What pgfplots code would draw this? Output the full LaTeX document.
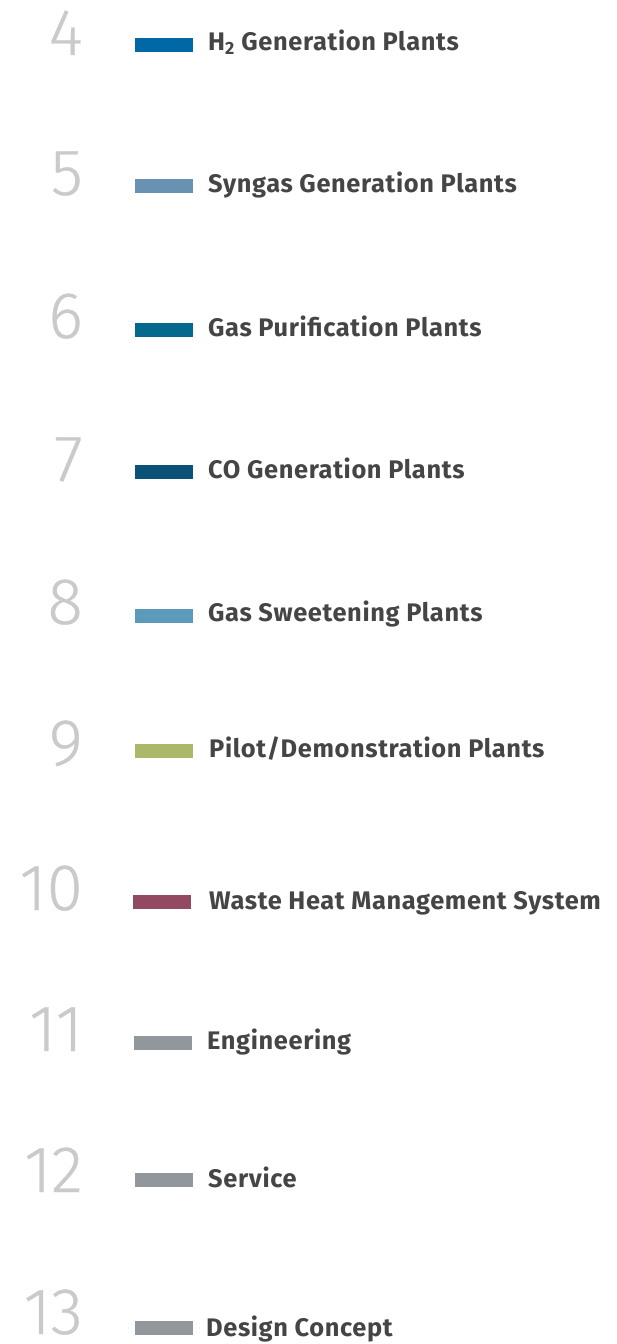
\documentclass[border=0pt]{standalone}
\usepackage{fontspec}
\usepackage{pgfplots}
\pgfplotsset{compat=1.18}
\IfFontExistsTF{Fira Sans Book}{\newfontfamily\numfont{Fira Sans Book}[FakeBold=0.5]}{%
  \IfFontExistsTF{Fira Sans Light}{\newfontfamily\numfont{Fira Sans Light}[FakeBold=0.5]}{\newfontfamily\numfont{Open Sans}}}
\newfontfamily\labfont{Fira Sans}[LetterSpace=2.5]
\definecolor{c4}{HTML}{0068A5}
\definecolor{c5}{HTML}{6991B2}
\definecolor{c6}{HTML}{04698C}
\definecolor{c7}{HTML}{0B5177}
\definecolor{c8}{HTML}{5B9ABB}
\definecolor{c9}{HTML}{ADB76A}
\definecolor{c10}{HTML}{914A62}
\definecolor{cg}{HTML}{91979A}
\definecolor{numgray}{HTML}{C9CACA}
\definecolor{labgray}{HTML}{454545}
\tikzset{
  num/.style={anchor=base east, font=\numfont\fontsize{66}{66}\selectfont, text=numgray, inner sep=0pt},
  lab/.style={anchor=base west, font=\labfont\bfseries\fontsize{25.5}{25.5}\selectfont, text=labgray, inner sep=0pt},
}
\begin{document}
\begin{tikzpicture}
\begin{axis}[
  scale only axis, width=616bp, height=1344bp,
  xmin=0, xmax=616, ymin=0, ymax=1344, y dir=reverse,
  hide axis, clip=false,
]
\addplot[draw=c4, line width=14bp] coordinates {(135,45) (193,45)};
\addplot[draw=c5, line width=14bp] coordinates {(135,186) (193,186)};
\addplot[draw=c6, line width=14bp] coordinates {(135,330) (193,330)};
\addplot[draw=c7, line width=14bp] coordinates {(135,472) (193,472)};
\addplot[draw=c8, line width=14bp] coordinates {(135,616) (193,616)};
\addplot[draw=c9, line width=14bp] coordinates {(135,751) (193,751)};
\addplot[draw=c10, line width=14bp] coordinates {(133,902) (191,902)};
\addplot[draw=cg, line width=14bp] coordinates {(134,1043) (192,1043)};
\addplot[draw=cg, line width=14bp] coordinates {(135,1180) (193,1180)};
\addplot[draw=cg, line width=14bp] coordinates {(135,1328) (193,1328)};

\node[num] at (axis cs:83,55) {4};
\node[num] at (axis cs:83,195) {5};
\node[num] at (axis cs:83,338) {6};
\node[num] at (axis cs:83,481) {7};
\node[num] at (axis cs:83,624) {8};
\node[num] at (axis cs:83,765) {9};
\node[num] at (axis cs:83,910) {10};
\node[num] at (axis cs:83,1051) {11};
\node[num] at (axis cs:83,1192) {12};
\node[num] at (axis cs:83,1334) {13};

\node[lab] at (axis cs:208,51) {H\textsubscript{2} Generation Plants};
\node[lab] at (axis cs:208,193) {Syngas Generation Plants};
\node[lab] at (axis cs:208,336) {Gas Purification Plants};
\node[lab] at (axis cs:208,478) {CO Generation Plants};
\node[lab] at (axis cs:208,621) {Gas Sweetening Plants};
\node[lab] at (axis cs:209,757) {Pilot/Demonstration Plants};
\node[lab] at (axis cs:209,909) {Waste Heat Management System};
\node[lab] at (axis cs:207,1049) {Engineering};
\node[lab] at (axis cs:208,1187) {Service};
\node[lab] at (axis cs:206,1336) {Design Concept};
\end{axis}
\pgfresetboundingbox
\path (current axis.south west) rectangle (current axis.north east);
\end{tikzpicture}
\end{document}
